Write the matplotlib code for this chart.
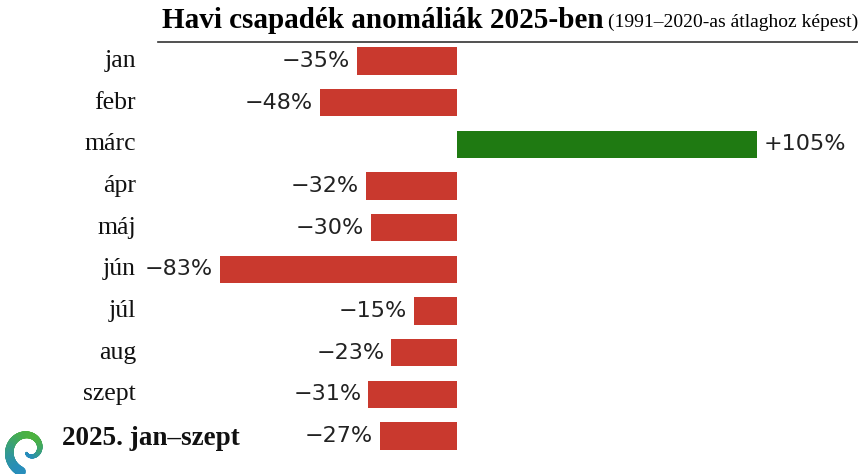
import numpy as np
import matplotlib.pyplot as plt

months = ['jan', 'febr', 'márc', 'ápr', 'máj', 'jún', 'júl', 'aug', 'szept']
anomalies = [-35, -48, 105, -32, -30, -83, -15, -23, -31]
total_label = '2025. jan–szept'
total_value = -27

title_main = 'Havi csapadék anomáliák 2025-ben'
title_sub = '(1991–2020-as átlaghoz képest)'

RED = '#C9392E'
GREEN = '#1F7A12'

W, H = 858, 474
px_per_pct = 2.856
zero_px = 457
row0_px = 61
row_step = 41.67


def fmt(v):
    return ('+' if v > 0 else '−') + f'{abs(v)}%'


def main():
    fig = plt.figure(figsize=(W / 100, H / 100), dpi=100)
    ax = fig.add_axes([0, 0, 1, 1])
    ax.set_xlim(-zero_px / px_per_pct, (W - zero_px) / px_per_pct)
    ax.set_ylim((H - row0_px) / row_step, -row0_px / row_step)
    ax.axis('off')

    values = anomalies + [total_value]
    ys = np.arange(len(values))
    colors = [GREEN if v > 0 else RED for v in values]
    ax.barh(ys, values, height=0.65, color=colors)

    for y, v in zip(ys, values):
        if v < 0:
            ax.annotate(fmt(v), (v, y), xytext=(-5, 0), textcoords='offset points',
                        ha='right', va='center', fontsize=16, family='DejaVu Sans',
                        color='#222222')
        else:
            ax.annotate(fmt(v), (v, y), xytext=(5, 0), textcoords='offset points',
                        ha='left', va='center', fontsize=16, family='DejaVu Sans',
                        color='#222222')

    # month names, serif, right aligned
    tr = ax.get_yaxis_transform()
    for y, m in zip(ys, months):
        ax.text(136 / W, y, m, transform=tr, ha='right', va='center',
                fontsize=18.5, family='Liberation Serif', color='#111111')
    ax.text(62 / W, ys[-1] + 0.05, total_label, transform=tr, ha='left', va='center',
            fontsize=19.5, fontweight='bold', family='Liberation Serif', color='#111111')

    # title and rule
    t = fig.text(162 / W, 1 - 21 / H, title_main, ha='left', va='center',
                 fontsize=21, fontweight='bold', family='Liberation Serif')
    fig.canvas.draw()
    bb = t.get_window_extent()
    fig.text((bb.x1 + 4) / W, 1 - 22 / H, title_sub, ha='left', va='center',
             fontsize=14, family='Liberation Serif')
    fig.add_artist(plt.Line2D([158 / W, 1], [1 - 42 / H, 1 - 42 / H],
                              color='#333333', lw=1.2))

    # small spiral logo in the corner (green on top, teal/blue towards the bottom)
    cx, cy = 29, 450
    th = np.linspace(np.radians(250) - 2.1 * np.pi, np.radians(250), 220)
    frac = np.linspace(0, 1, len(th))
    r = 4 + 19 * frac
    xs = (cx + r * np.cos(th)) / W
    ys_ = 1 - (cy - r * np.sin(th)) / H
    for i in range(len(th) - 1):
        s = 0.5 + 0.5 * np.sin(th[i])  # 1 at top, 0 at bottom
        c = (0.15 + 0.15 * s, 0.55 + 0.15 * s, 0.75 - 0.5 * s)
        fig.add_artist(plt.Line2D(xs[i:i + 2], ys_[i:i + 2], color=c,
                                  lw=2 + 5 * frac[i], solid_capstyle='round'))

    fig.savefig('out.png', dpi=100, facecolor='white')


if __name__ == '__main__':
    main()
